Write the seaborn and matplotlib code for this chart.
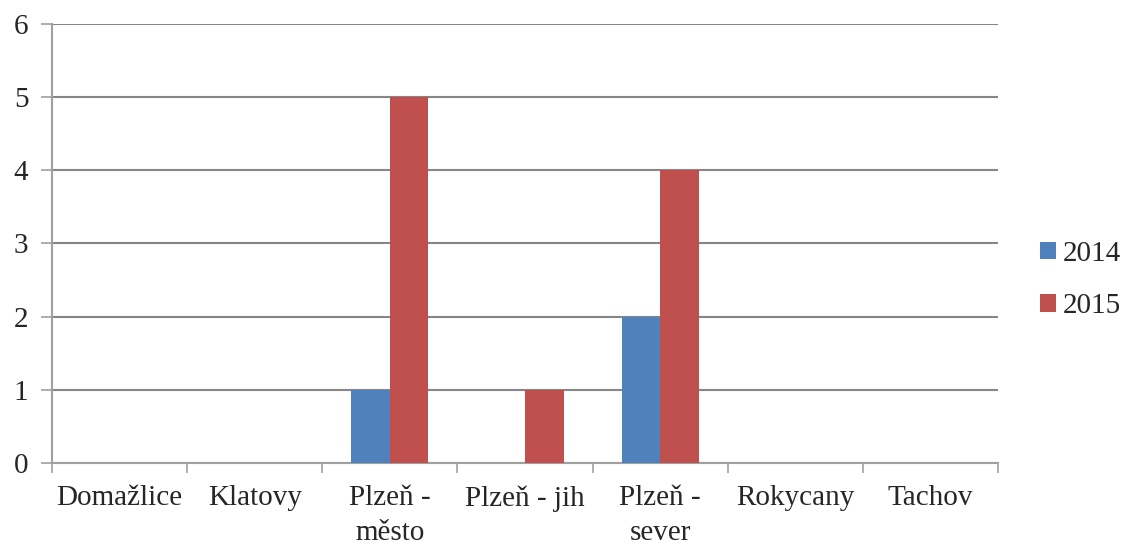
import pandas as pd
import numpy as np
import matplotlib.pyplot as plt
import seaborn as sns

# data
districts = ['Domažlice', 'Klatovy', 'Plzeň -\nměsto', 'Plzeň - jih', 'Plzeň -\nsever', 'Rokycany', 'Tachov']
values_2014 = [0, 0, 1, 0, 2, 0, 0]
values_2015 = [0, 0, 5, 1, 4, 0, 0]
years = ['2014', '2015']

df = pd.DataFrame({
    'district': districts * 2,
    'year': [years[0]] * len(districts) + [years[1]] * len(districts),
    'count': values_2014 + values_2015,
})

sns.set_style('white')
plt.rcParams['font.family'] = ['Liberation Serif', 'DejaVu Serif']

fig = plt.figure(figsize=(11.23, 5.45), dpi=100)
ax = fig.add_axes([0.0463, 0.1505, 0.8425, 0.8055])

sns.barplot(data=df, x='district', y='count', hue='year', order=districts,
            palette=['#4F81BD', '#C0504D'], width=0.57, saturation=1,
            edgecolor='none', ax=ax, zorder=3)

ax.set_ylim(0, 6)
ax.set_xlim(-0.5, len(districts) - 0.5)
ax.set_yticks(range(0, 7))
ax.yaxis.grid(True, color='#868686', linewidth=1.5, zorder=0)
ax.set_axisbelow(True)

# category boundary ticks on x axis
ax.set_xticks(np.arange(-0.5, len(districts), 1), minor=True)
ax.tick_params(axis='x', which='minor', bottom=True, length=7, width=1.2,
               color='#A0A0A0', direction='out')
ax.tick_params(axis='x', which='major', bottom=False, length=0, labelsize=21, pad=16)
ax.tick_params(axis='y', left=True, length=8, width=1.2, color='#A0A0A0',
               labelsize=21, pad=9)
for lbl in ax.get_xticklabels():
    lbl.set_linespacing(1.42)

for s in ['top', 'right']:
    ax.spines[s].set_visible(False)
for s in ['left', 'bottom']:
    ax.spines[s].set_color('#A0A0A0')
    ax.spines[s].set_linewidth(1.5)

ax.set_xlabel('')
ax.set_ylabel('')

ax.legend(loc='center left', bbox_to_anchor=(1040 / 1123, 1 - 280 / 545),
          bbox_transform=fig.transFigure, frameon=False, borderpad=0,
          borderaxespad=0, fontsize=21, handlelength=0.55, handleheight=0.55,
          handletextpad=0.22, labelspacing=0.9)

plt.savefig('out.png', dpi=100)
